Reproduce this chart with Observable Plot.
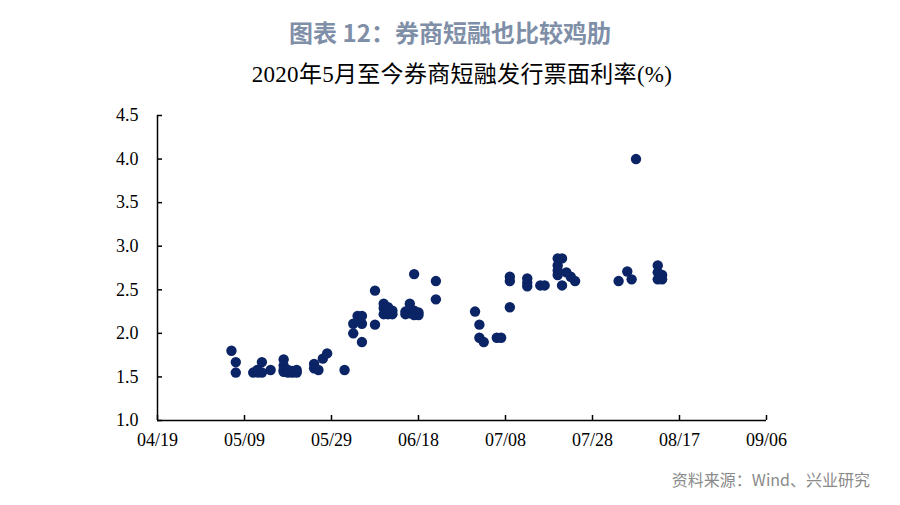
<!DOCTYPE html>
<html>
<head>
<meta charset="utf-8">
<script src="https://cdn.jsdelivr.net/npm/d3@7"></script>
<script src="https://cdn.jsdelivr.net/npm/@observablehq/plot@0.6"></script>
<style>
  html, body { margin: 0; padding: 0; background: #fff; }
  #page { position: relative; width: 900px; height: 505px; overflow: hidden; background: #fff; }
  #title { position: absolute; left: 0; top: 16px; width: 900px; text-align: center;
    font-family: "Noto Sans CJK SC", "Noto Sans", sans-serif; font-weight: 700; font-size: 24px;
    line-height: 32px; color: #7f8fa8; }
  #subtitle { position: absolute; left: 12px; top: 60px; width: 900px; text-align: center;
    font-family: "Liberation Serif", "Noto Sans CJK SC", serif; font-size: 23px; letter-spacing: 0.3px;
    line-height: 30px; color: #000; }
  #chart { position: absolute; left: 0; top: 95px; }
  #source { position: absolute; right: 30px; top: 468px;
    font-family: "Noto Sans CJK SC", "Noto Sans", sans-serif; font-size: 16px; line-height: 22px; color: #8a8a8a; }
</style>
</head>
<body>
<div id="page">
  <div id="title">图表 12：券商短融也比较鸡肋</div>
  <div id="subtitle">2020年5月至今券商短融发行票面利率(%)</div>
  <div id="chart"></div>
  <div id="source">资料来源：Wind、兴业研究</div>
</div>
<script>
// Issue dates (2020, MM/DD) and coupon rates (%)
const issueDates = [
  "05/06","05/07","05/07","05/11","05/12","05/12","05/13","05/13","05/15",
  "05/18","05/18","05/18","05/18","05/19","05/19","05/20","05/20","05/21","05/21",
  "05/25","05/25","05/26","05/27","05/28","06/01",
  "06/03","06/03","06/04","06/05","06/05","06/05","06/08","06/08",
  "06/10","06/10","06/10","06/11","06/11","06/12","06/12","06/15","06/15",
  "06/16","06/16","06/17","06/17","06/17","06/18","06/18","06/22","06/22",
  "07/01","07/02","07/02","07/03","07/06","07/07",
  "07/09","07/09","07/09","07/13","07/13","07/13","07/16","07/17",
  "07/20","07/20","07/20","07/20","07/21","07/21","07/22","07/23","07/24",
  "08/03","08/05","08/06","08/07","08/12","08/12","08/12","08/13","08/13"
];
const couponRates = [
  1.80, 1.67, 1.55, 1.55, 1.55, 1.58, 1.55, 1.67, 1.58,
  1.70, 1.63, 1.58, 1.56, 1.58, 1.55, 1.57, 1.55, 1.58, 1.55,
  1.65, 1.60, 1.58, 1.71, 1.77, 1.58,
  2.00, 2.11, 2.20, 2.20, 2.11, 1.90, 2.49, 2.10,
  2.34, 2.29, 2.22, 2.30, 2.22, 2.26, 2.22, 2.25, 2.22,
  2.34, 2.23, 2.68, 2.26, 2.21, 2.24, 2.21, 2.60, 2.39,
  2.25, 2.10, 1.95, 1.90, 1.95, 1.95,
  2.65, 2.60, 2.30, 2.63, 2.58, 2.54, 2.55, 2.55,
  2.86, 2.78, 2.72, 2.67, 2.86, 2.55, 2.70, 2.65, 2.60,
  2.60, 2.71, 2.62, 4.00, 2.78, 2.70, 2.62, 2.62, 2.67
];
const xTickLabels = ["04/19","05/09","05/29","06/18","07/08","07/28","08/17","09/06"];
const yTickValues = [1.0, 1.5, 2.0, 2.5, 3.0, 3.5, 4.0, 4.5];

const parseMD = s => new Date(`2020-${s.replace("/", "-")}T00:00:00Z`);
const points = issueDates.map((d, i) => ({date: parseMD(d), rate: couponRates[i]}));
const xTicks = xTickLabels.map(parseMD);
const xDomain = [xTicks[0], xTicks[xTicks.length - 1]];
const yDomain = [yTickValues[0], yTickValues[yTickValues.length - 1]];

const chart = Plot.plot({
  width: 900,
  height: 370,
  marginTop: 20,
  marginBottom: 45,
  marginLeft: 157,
  marginRight: 134,
  style: {fontFamily: "Liberation Serif, serif", fontSize: "18px", color: "#000", background: "#fff", overflow: "visible"},
  x: {type: "utc", domain: xDomain},
  y: {domain: yDomain},
  marks: [
    // inward tick marks
    Plot.axisX(xTicks, {tickSize: 5, dy: -5, tickFormat: () => "", label: null, stroke: "#000", strokeWidth: 1.5}),
    Plot.axisY(yTickValues, {tickSize: 5, dx: 5, tickFormat: () => "", label: null, stroke: "#000", strokeWidth: 1.5}),
    // labels
    Plot.axisX(xTicks, {tickSize: 0, tickPadding: 13, tickFormat: d3.utcFormat("%m/%d"), label: null, fill: "#000"}),
    Plot.axisY(yTickValues, {tickSize: 0, tickPadding: 19, tickFormat: d3.format(".1f"), label: null, fill: "#000"}),
    // axis lines
    Plot.ruleY([yDomain[0]], {stroke: "#000", strokeWidth: 1.5}),
    Plot.ruleX([xDomain[0]], {stroke: "#000", strokeWidth: 1.5}),
    Plot.dot(points, {x: "date", y: "rate", r: 5.2, fill: "#0b2465", stroke: "none"})
  ]
});
document.getElementById("chart").appendChild(chart);
</script>
</body>
</html>
